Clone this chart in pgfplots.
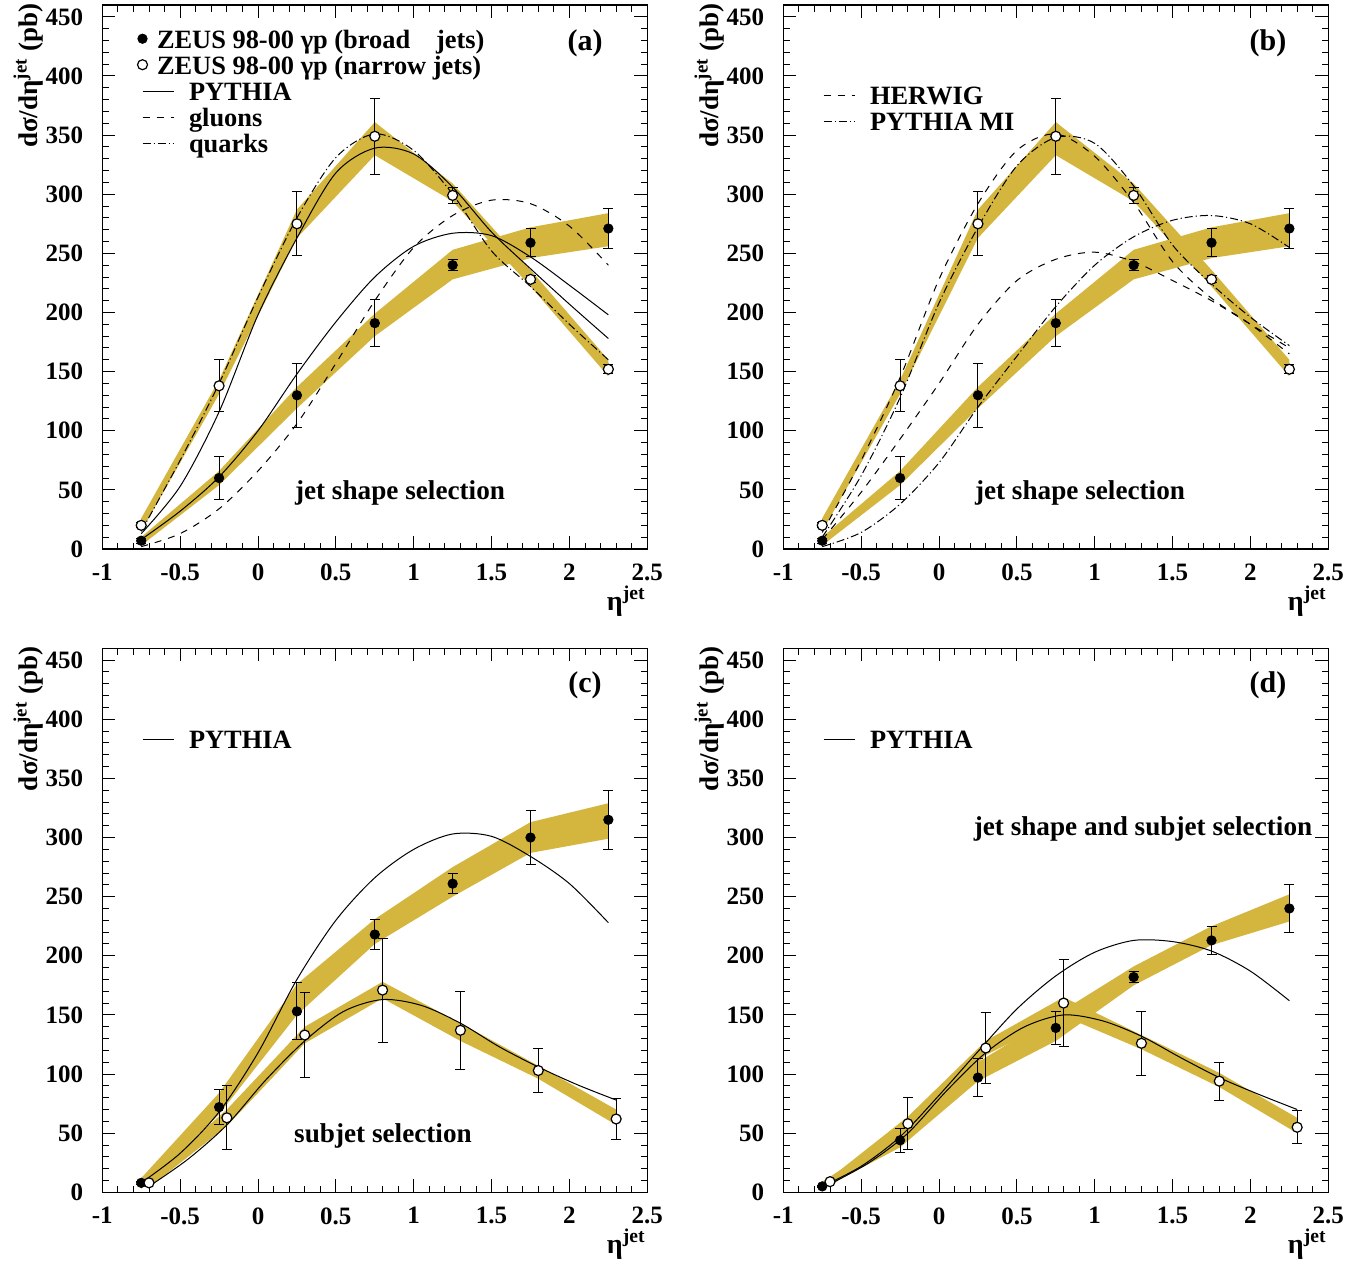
\documentclass[border=0pt]{standalone}
\usepackage{fontspec}
\setmainfont{Liberation Serif}
\usepackage{pgfplots}
\pgfplotsset{compat=1.18}
\definecolor{gold}{RGB}{212,181,62}
\pgfplotsset{
  zeus/.style={
    scale only axis, width=272.5pt, height=272pt, anchor=north west,
    xmin=-1, xmax=2.5, ymin=0, ymax=460,
    xtick={-1,-0.5,0,0.5,1,1.5,2,2.5},
    xticklabels={-1,-0.5,0,0.5,1,1.5,2,2.5},
    ytick={0,50,100,150,200,250,300,350,400,450},
    yticklabels={0,50,100,150,200,250,300,350,400,450},
    minor x tick num=4, minor y tick num=4,
    major tick length=6.5pt, minor tick length=3.25pt,
    tick align=inside, xtick pos=both, ytick pos=both,
    axis line style={line width=0.6pt},
    every tick/.style={black, line width=0.5pt},
    tick label style={font=\fontsize{12.5}{12.5}\selectfont\bfseries},
    xticklabel style={yshift=-4pt},
    yticklabel style={xshift=-6pt},
    legend cell align=left,
    legend style={draw=none, fill=none, anchor=north west, inner sep=0pt, outer sep=0pt,
      row sep=0pt, column sep=7.5pt, font=\fontsize{13.2}{13.2}\selectfont\bfseries,
      nodes={inner sep=0pt, text height=10pt, text depth=3pt}},
  },
  band/.style={fill=gold, draw=none, forget plot},
  curve/.style={black, line width=0.5pt, smooth, forget plot, mark=none},
  dashedc/.style={curve, dash pattern=on 3.5pt off 3.5pt},
  dashdotc/.style={curve, dash pattern=on 4pt off 1.5pt on 0.6pt off 1.5pt},
  broad/.style={forget plot, black, only marks, mark=*, mark size=2.35pt,
    mark options={fill=black, draw=black},
    error bars/.cd, y dir=both, y explicit,
    error bar style={line width=0.5pt, black},
    error mark options={line width=0.5pt, black, mark size=2.5pt, rotate=90}},
  narrow/.style={forget plot, black, only marks, mark=*, mark size=2.5pt,
    mark options={fill=white, draw=black, line width=0.6pt},
    error bars/.cd, y dir=both, y explicit,
    error bar style={line width=0.5pt, black},
    error mark options={line width=0.5pt, black, mark size=2.5pt, rotate=90}},
  lineimg/.style={legend image code/.code={\path (-2.5pt,0pt) (15.5pt,0pt); \draw[##1] (0pt,1pt) -- (15.5pt,1pt);}},
  dotimg/.style={legend image code/.code={\path (-2.5pt,0pt) (15.5pt,0pt); \draw[##1] plot coordinates {(0pt,1.5pt)};}},
}
\newcommand{\lbl}{\fontsize{13.6}{13.6}\selectfont\bfseries}
\newcommand{\plbl}{\fontsize{15}{15}\selectfont\bfseries}
\begin{document}
\begin{tikzpicture}
\useasboundingbox (0,0) rectangle (683.5pt,-633pt);

% ================= (a)
\begin{axis}[zeus, at={(51.15pt,-2.5pt)}, legend style={at={(0.0637,0.9564)}}]
\addlegendimage{only marks, mark=*, mark size=2.35pt, mark options={fill=black}, dotimg}
\addlegendentry{\fontsize{13.2}{13.2}\selectfont\hspace*{-16pt}ZEUS 98-00 γp (broad\hspace{13pt}jets)}
\addlegendimage{only marks, mark=*, mark size=2.5pt, mark options={fill=white, draw=black, line width=0.6pt}, dotimg}
\addlegendentry{\fontsize{13.2}{13.2}\selectfont\hspace*{-16pt}ZEUS 98-00 γp (narrow jets)}
\addlegendimage{black, line width=0.5pt, lineimg}
\addlegendentry{PYTHIA}
\addlegendimage{black, line width=0.5pt, dash pattern=on 3.5pt off 3.5pt, lineimg}
\addlegendentry{gluons}
\addlegendimage{black, line width=0.5pt, dash pattern=on 4pt off 1.5pt on 0.6pt off 1.5pt, lineimg}
\addlegendentry{quarks}
% bands
\addplot[band] coordinates {(-0.75,26) (-0.25,143) (0.25,287) (0.75,361) (1.25,309) (1.75,236) (2.25,160)
  (2.25,146) (1.75,222) (1.25,294) (0.75,333) (0.25,263) (-0.25,131) (-0.75,15) (-0.75,26)};
\addplot[band] coordinates {(-0.75,10) (-0.25,66) (0.25,137) (0.75,199) (1.25,253) (1.75,272) (2.25,284)
  (2.25,256) (1.75,246) (1.25,228) (0.75,180) (0.25,119) (-0.25,54) (-0.75,3) (-0.75,10)};
% curves
\addplot[curve] coordinates {(-0.75,13) (-0.5,53) (-0.25,116) (0,198) (0.25,263) (0.5,318) (0.75,339) (1.0,334) (1.25,306) (1.5,268) (1.75,237) (2.0,207) (2.25,178)};
\addplot[curve] coordinates {(-0.75,8) (-0.5,32) (-0.25,61) (0,100) (0.25,148) (0.5,192) (0.75,230) (1.0,256) (1.25,267) (1.5,265) (1.75,247) (2.0,223) (2.25,198)};
\addplot[dashedc] coordinates {(-0.75,2) (-0.5,13) (-0.25,34) (0,66) (0.25,106) (0.5,157) (0.75,210) (1.0,255) (1.25,282) (1.5,295) (1.75,292) (2.0,273) (2.25,240)};
\addplot[dashdotc] coordinates {(-0.75,15) (-0.5,75) (-0.25,140) (0,213) (0.25,280) (0.5,331) (0.75,351) (1.0,337) (1.25,300) (1.5,252) (1.75,222) (2.0,190) (2.25,160)};
% data
\addplot[broad] coordinates {(-0.75,7) +- (0,2) (-0.25,60) +- (0,18) (0.25,130) +- (0,27) (0.75,191) +- (0,20) (1.25,240) +- (0,4.5) (1.75,259) +- (0,12) (2.25,271) +- (0,17)};
\addplot[narrow] coordinates {(-0.75,20) +- (0,2) (-0.25,138) +- (0,22) (0.25,275) +- (0,27) (0.75,349) +- (0,32) (1.25,299) +- (0,7) (1.75,228) +- (0,3) (2.25,152) +- (0,4)};
\end{axis}

% ================= (b)
\begin{axis}[zeus, at={(391.65pt,-2.5pt)}, legend style={at={(0.0637,0.853)}}]
\addlegendimage{black, line width=0.5pt, dash pattern=on 3.5pt off 3.5pt, lineimg}
\addlegendentry{HERWIG}
\addlegendimage{black, line width=0.5pt, dash pattern=on 4pt off 1.5pt on 0.6pt off 1.5pt, lineimg}
\addlegendentry{PYTHIA MI}
\addplot[band] coordinates {(-0.75,26) (-0.25,143) (0.25,287) (0.75,361) (1.25,309) (1.75,236) (2.25,160)
  (2.25,146) (1.75,222) (1.25,294) (0.75,333) (0.25,263) (-0.25,131) (-0.75,15) (-0.75,26)};
\addplot[band] coordinates {(-0.75,10) (-0.25,66) (0.25,137) (0.75,199) (1.25,253) (1.75,272) (2.25,284)
  (2.25,256) (1.75,246) (1.25,228) (0.75,180) (0.25,119) (-0.25,54) (-0.75,3) (-0.75,10)};
\addplot[dashedc] coordinates {(-0.75,14) (-0.5,75) (-0.25,145) (0,228) (0.25,292) (0.5,337) (0.75,351) (1.0,332) (1.25,293) (1.5,243) (1.75,212) (2.0,190) (2.25,165)};
\addplot[dashdotc] coordinates {(-0.75,10) (-0.5,62) (-0.25,128) (0,208) (0.25,272) (0.5,324) (0.75,348) (1.0,343) (1.25,307) (1.5,257) (1.75,224) (2.0,196) (2.25,172)};
\addplot[dashedc] coordinates {(-0.75,8) (-0.5,48) (-0.25,93) (0,140) (0.25,190) (0.5,227) (0.75,245) (1.0,251) (1.25,243) (1.5,227) (1.75,210) (2.0,190) (2.25,170)};
\addplot[dashdotc] coordinates {(-0.75,2) (-0.5,14) (-0.25,38) (0,73) (0.25,120) (0.5,163) (0.75,205) (1.0,240) (1.25,264) (1.5,278) (1.75,282) (2.0,275) (2.25,255)};
\addplot[broad] coordinates {(-0.75,7) +- (0,2) (-0.25,60) +- (0,18) (0.25,130) +- (0,27) (0.75,191) +- (0,20) (1.25,240) +- (0,4.5) (1.75,259) +- (0,12) (2.25,271) +- (0,17)};
\addplot[narrow] coordinates {(-0.75,20) +- (0,2) (-0.25,138) +- (0,22) (0.25,275) +- (0,27) (0.75,349) +- (0,32) (1.25,299) +- (0,7) (1.75,228) +- (0,3) (2.25,152) +- (0,4)};
\end{axis}

% ================= (c)
\begin{axis}[zeus, at={(51.15pt,-324.15pt)}, legend style={at={(0.0637,0.853)}}]
\addlegendimage{black, line width=0.5pt, lineimg}
\addlegendentry{PYTHIA}
\addplot[band] coordinates {(-0.75,12) (-0.25,84) (0.25,176) (0.75,231) (1.25,275) (1.75,313) (2.25,329)
  (2.25,299) (1.75,287) (1.25,250) (0.75,210) (0.25,150) (-0.25,66) (-0.75,3) (-0.75,12)};
\addplot[band] coordinates {(-0.7,12) (-0.2,70) (0.3,140) (0.8,178) (1.3,143) (1.8,107) (2.3,70)
  (2.3,57) (1.8,96) (1.3,128) (0.8,164) (0.3,126) (-0.2,56) (-0.7,4) (-0.7,12)};
\addplot[curve] coordinates {(-0.75,8) (-0.5,33) (-0.25,68) (0,118) (0.25,180) (0.5,230) (0.75,266) (1.0,290) (1.25,303) (1.5,301) (1.75,284) (2.0,261) (2.25,228)};
\addplot[curve] coordinates {(-0.7,5) (-0.45,28) (-0.2,57) (0.05,95) (0.3,128) (0.55,153) (0.8,163) (1.05,158) (1.3,143) (1.55,123) (1.8,106) (2.05,91) (2.3,78)};
\addplot[broad] coordinates {(-0.75,8) +- (0,1) (-0.25,72) +- (0,15) (0.25,153) +- (0,24) (0.75,218) +- (0,13) (1.25,261) +- (0,8.5) (1.75,300) +- (0,23) (2.25,315) +- (0,25)};
\addplot[narrow] coordinates {(-0.7,8) +- (0,1) (-0.2,63) +- (0,27) (0.3,133) +- (0,36) (0.8,171) +- (0,44) (1.3,137) +- (0,33) (1.8,103) +- (0,19) (2.3,62) +- (0,17)};
\end{axis}

% ================= (d)
\begin{axis}[zeus, at={(391.65pt,-324.15pt)}, legend style={at={(0.0637,0.853)}}]
\addlegendimage{black, line width=0.5pt, lineimg}
\addlegendentry{PYTHIA}
\addplot[band] coordinates {(-0.75,9) (-0.25,51) (0.25,110) (0.75,150) (1.25,191) (1.75,225) (2.25,252)
  (2.25,229) (1.75,209) (1.25,175) (0.75,128) (0.25,94) (-0.25,38) (-0.75,3) (-0.75,9)};
\addplot[band] coordinates {(-0.7,12) (-0.2,64) (0.3,128) (0.8,165) (1.3,133) (1.8,101) (2.3,63)
  (2.3,50) (1.8,89) (1.3,121) (0.8,149) (0.3,116) (-0.2,51) (-0.7,5) (-0.7,12)};
\addplot[curve] coordinates {(-0.75,5) (-0.5,22) (-0.25,47) (0,82) (0.25,119) (0.5,155) (0.75,183) (1.0,203) (1.25,213) (1.5,212) (1.75,204) (2.0,187) (2.25,162)};
\addplot[curve] coordinates {(-0.7,7) (-0.45,25) (-0.2,50) (0.05,86) (0.3,118) (0.55,140) (0.8,150) (1.05,145) (1.3,132) (1.55,114) (1.8,97) (2.05,83) (2.3,70)};
\addplot[broad] coordinates {(-0.75,5) +- (0,1) (-0.25,44) +- (0,10) (0.25,97) +- (0,16) (0.75,139) +- (0,14) (1.25,182) +- (0,5) (1.75,213) +- (0,12) (2.25,240) +- (0,20)};
\addplot[narrow] coordinates {(-0.7,9) +- (0,1) (-0.2,58) +- (0,22) (0.3,122) +- (0,30) (0.8,160) +- (0,37) (1.3,126) +- (0,27) (1.8,94) +- (0,16) (2.3,55) +- (0,14)};
\end{axis}

% ================= text
\foreach \dx/\dy in {0/0, 340.5/0, 0/321.65, 340.5/321.65} {
  \node[rotate=90, anchor=base east, inner sep=0pt, font=\fontsize{13.5}{13.5}\selectfont\bfseries] at (18.5pt+\dx pt, -1.5pt-\dy pt) {dσ/dη\textsuperscript{jet} (pb)};
  \node[anchor=base east, inner sep=0pt, font=\fontsize{14}{14}\selectfont\bfseries] at (323pt+\dx pt, -305pt-\dy pt) {η\textsuperscript{jet}};
}
\node[font=\plbl] at (292.5pt,-21.5pt) {(a)};
\node[font=\plbl] at (634pt,-21.5pt) {(b)};
\node[font=\plbl] at (292.5pt,-342.5pt) {(c)};
\node[font=\plbl] at (634pt,-342.5pt) {(d)};
\node[font=\lbl] at (200pt,-246.5pt) {jet shape selection};
\node[font=\lbl] at (540pt,-246.5pt) {jet shape selection};
\node[font=\lbl] at (191.5pt,-568pt) {subjet selection};
\node[font=\lbl] at (571.5pt,-414.5pt) {jet shape and subjet selection};
\end{tikzpicture}
\end{document}
